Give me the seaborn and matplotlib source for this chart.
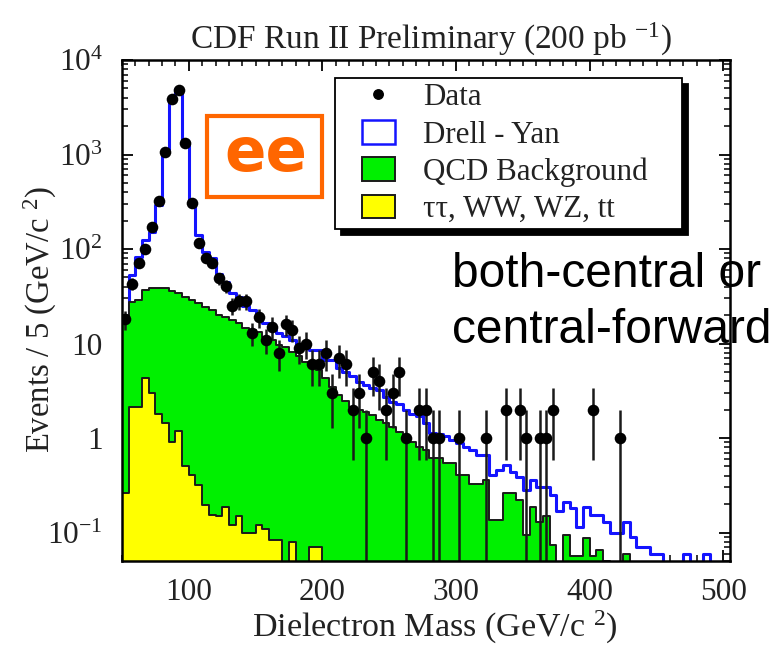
import numpy as np
import pandas as pd
import matplotlib
matplotlib.use("Agg")
import matplotlib.pyplot as plt
import seaborn as sns
from matplotlib.patches import Patch, Rectangle, Circle
from matplotlib.legend_handler import HandlerPatch
from matplotlib.ticker import FixedLocator, LogLocator, NullFormatter, MultipleLocator

# ---------------- data (5 GeV bins, 50 - 505 GeV/c^2) ----------------
bin_edges = list(range(50, 510, 5))
mass_centers = [e + 2.5 for e in bin_edges[:-1]]

data_counts = [18, 43, 72, 100, 172, 324, 1070, 3840, 4820, 1310,
               309, 117, 80, 72, 49, 41, 25, 28, 28, 13,
               19, 11, 15, 8, 16, 14, 9, 10, 6, 6,
               8, 3, 7, 6, 2, 3, 1, 5, 4, 2,
               3, 5, 1, 0, 2, 2, 1, 1, 0, 0,
               1, 0, 0, 0, 1, 0, 0, 2, 0, 2,
               1, 0, 1, 1, 2, 0, 0, 0, 0, 0,
               2, 0, 0, 0, 1, 0, 0, 0, 0, 0,
               0, 0, 0, 0, 0, 0, 0, 0, 0, 0, 0]

# top of the full stack (Drell-Yan + QCD + other)
drell_yan_stack = [18, 53, 83, 124, 152, 292, 1117, 3780, 4900, 1366,
                   316, 141, 94, 80, 55, 45, 34, 31, 25, 22.6,
                   19.5, 16.5, 15, 13, 12, 11, 10, 9.2, 8.5, 8.5,
                   6.7, 6.7, 5.5, 5.0, 4.5, 3.9, 3.6, 3.4, 3.2, 2.7,
                   2.4, 2.3, 2.0, 1.8, 1.7, 1.43, 1.13, 1.10, 1.05, 0.95,
                   0.88, 0.81, 0.75, 0.66, 0.66, 0.41, 0.46, 0.52, 0.44, 0.39,
                   0.28, 0.36, 0.30, 0.30, 0.25, 0.17, 0.21, 0.18, 0.115, 0.187,
                   0.153, 0.153, 0.13, 0.10, 0.10, 0.13, 0.09, 0.071, 0.071, 0.06,
                   0.06, 0, 0, 0, 0.06, 0, 0, 0.06, 0, 0, 0]

# top of QCD + other
qcd_stack = [17.7, 27.7, 29, 37, 39, 39, 39, 36, 34, 31,
             29, 26.6, 24.5, 22.6, 20, 19, 17.7, 16.4, 14.5, 13.9,
             13.3, 11.8, 10.9, 9.6, 9.3, 8.2, 7.4, 6.4, 5.7, 5.2,
             4.3, 3.5, 2.85, 2.45, 2.14, 1.98, 1.9, 1.75, 1.55, 1.43,
             1.32, 1.17, 1.03, 0.91, 0.81, 0.75, 0.61, 0.61, 0.54, 0.54,
             0.41, 0.41, 0.33, 0.33, 0.36, 0.135, 0.135, 0.26, 0.26, 0.22,
             0.094, 0.186, 0.13, 0.15, 0.074, 0, 0.094, 0.056, 0.056, 0.087,
             0.056, 0.065, 0.05, 0, 0, 0.06, 0, 0, 0, 0,
             0, 0, 0, 0, 0, 0, 0, 0, 0, 0, 0]

# tau tau, WW, WZ, ttbar
other_bkg = [0.26, 2.14, 2.14, 4.3, 3.0, 1.8, 1.43, 0.91, 1.2, 0.50,
             0.41, 0.32, 0.195, 0.153, 0.15, 0.187, 0.12, 0.15, 0.10, 0.10,
             0.12, 0.11, 0.083, 0.083, 0, 0.08, 0, 0, 0.071, 0.071,
             0, 0, 0, 0, 0, 0, 0, 0, 0, 0,
             0, 0, 0, 0, 0, 0, 0, 0, 0, 0,
             0, 0, 0, 0, 0, 0, 0, 0, 0, 0,
             0, 0, 0, 0, 0, 0, 0, 0, 0, 0,
             0, 0, 0, 0, 0, 0, 0, 0, 0, 0,
             0, 0, 0, 0, 0, 0, 0, 0, 0, 0, 0]

legend_labels = ["Data", "Drell - Yan", "QCD Background", "\u03c4\u03c4, WW, WZ, tt"]
ytick_values = [0.1, 1, 10, 100, 1000, 10000]
ytick_labels = [r"$10^{-1}$", "1", "10", r"$10^{2}$", r"$10^{3}$", r"$10^{4}$"]
xtick_values = [100, 200, 300, 400, 500]

# ---------------- style ----------------
sns.set_theme(style="ticks")
plt.rcParams['font.family'] = ['Liberation Serif', 'DejaVu Serif']
plt.rcParams['mathtext.fontset'] = 'custom'
plt.rcParams['mathtext.rm'] = 'Liberation Serif'
plt.rcParams['mathtext.it'] = 'Liberation Serif:italic'
plt.rcParams['mathtext.bf'] = 'Liberation Serif:bold'

W, H = 777, 647
fig = plt.figure(figsize=(W / 100, H / 100), dpi=100)
ax = fig.add_axes([122 / W, 1 - 561 / H, (730 - 122) / W, (561 - 60) / H])
ax.set_yscale('log')

df = pd.DataFrame({'mass': mass_centers, 'dy': drell_yan_stack,
                   'qcd': qcd_stack, 'other': other_bkg, 'n': data_counts})

blue = '#1414ff'
green = '#00f000'
yellow = '#ffff00'
dark = '#1a1a1a'

sns.histplot(data=df, x='mass', weights='dy', bins=bin_edges, element='step',
             fill=True, color='white', alpha=1, edgecolor=blue, linewidth=2.2,
             ax=ax, zorder=1)
sns.histplot(data=df, x='mass', weights='qcd', bins=bin_edges, element='step',
             fill=True, color=green, alpha=1, edgecolor=dark, linewidth=1.4,
             ax=ax, zorder=2)
sns.histplot(data=df, x='mass', weights='other', bins=bin_edges, element='step',
             fill=True, color=yellow, alpha=1, edgecolor=dark, linewidth=1.4,
             ax=ax, zorder=3)

# data points with Poisson errors
pts = df[df['n'] > 0]
err = np.sqrt(pts['n'].values)
lo = np.clip(pts['n'].values - err, 1e-3, None)
hi = pts['n'].values + err
ax.vlines(pts['mass'].values, lo, hi, color=dark, linewidth=1.8, zorder=5)
sns.scatterplot(data=pts, x='mass', y='n', color='black', s=70, edgecolor='black',
                linewidth=0, ax=ax, zorder=6, legend=False)

ax.set_xlim(50, 505)
ax.set_ylim(0.05, 1e4)
ax.set_xlabel('')
ax.set_ylabel('')

for s in ax.spines.values():
    s.set_linewidth(1.8)
    s.set_color('black')
    s.set_zorder(10)

ax.xaxis.set_major_locator(FixedLocator(xtick_values))
ax.xaxis.set_minor_locator(MultipleLocator(10))
ax.yaxis.set_major_locator(FixedLocator(ytick_values))
ax.set_yticklabels(ytick_labels)
ax.yaxis.set_minor_locator(LogLocator(base=10, subs=np.arange(2, 10)))
ax.yaxis.set_minor_formatter(NullFormatter())
ax.tick_params(which='both', direction='in', top=True, right=True, color='black')
ax.tick_params(which='major', length=8, width=1.3, labelsize=22.5,
               labelcolor='#222222')
ax.tick_params(axis='x', which='major', pad=12)
ax.tick_params(axis='y', which='major', pad=14)
ax.tick_params(which='minor', length=4, width=1.1)

# legend with boxes indented like the original
LEG_FS = 22.3


def box_patch(legend, orig_handle, xdescent, ydescent, width, height, fontsize):
    return Rectangle((-xdescent + 16.1, -ydescent), 23.8, height)


def dot_patch(legend, orig_handle, xdescent, ydescent, width, height, fontsize):
    return Circle((-xdescent + 28.0, -ydescent + height / 2), 3.4)


handles = [Patch(facecolor='black', edgecolor='black'),
           Patch(facecolor='white', edgecolor=blue, linewidth=1.8),
           Patch(facecolor=green, edgecolor=dark, linewidth=1.4),
           Patch(facecolor=yellow, edgecolor=dark, linewidth=1.4)]
hmap = {handles[0]: HandlerPatch(patch_func=dot_patch)}
for h in handles[1:]:
    hmap[h] = HandlerPatch(patch_func=box_patch)

leg_x0 = (335 - 122) / 608
leg_y0 = 1 - (230 - 60) / 501
leg_w = (682 - 335) / 608
leg_h = (230 - 78) / 501
leg = ax.legend(handles, legend_labels, handler_map=hmap, loc='upper left',
                bbox_to_anchor=(leg_x0, leg_y0, leg_w, leg_h), mode='expand',
                fontsize=LEG_FS, frameon=True, fancybox=False, framealpha=1,
                edgecolor='black', borderaxespad=0, borderpad=0.15,
                handlelength=1.79, handleheight=0.8, handletextpad=0.9,
                labelspacing=0.25,
                shadow={'ox': 4, 'oy': -4, 'color': 'black', 'alpha': 1})
leg.get_frame().set_linewidth(1.3)
for t in leg.get_texts():
    t.set_color('#222222')
leg.set_zorder(20)

# "ee" box
fig.add_artist(Rectangle((207 / W, 1 - 197 / H), 115 / W, 81 / H,
                         transform=fig.transFigure, fill=False,
                         edgecolor='#ff6600', linewidth=3.0))
fig.text(266 / W, 1 - 171 / H, 'ee', ha='center', va='baseline',
         fontsize=44, fontweight='bold', color='#ff6600', family='DejaVu Sans')

# annotation
fig.text(452 / W, 1 - 287 / H, 'both-central or', ha='left', va='baseline',
         fontsize=34.5, color='black', family='Liberation Sans')
fig.text(452 / W, 1 - 343 / H, 'central-forward', ha='left', va='baseline',
         fontsize=34.5, color='black', family='Liberation Sans')

# titles
fig.text(190 / W, 1 - 49 / H, 'CDF Run II Preliminary (200 pb $^{-1}$)',
         ha='left', va='baseline', fontsize=24, color='#222222')
fig.text(435 / W, 1 - 637 / H, 'Dielectron Mass (GeV/c $^{2}$)',
         ha='center', va='baseline', fontsize=24.5, color='#222222')
fig.text(40 / W, 1 - 320 / H, 'Events / 5 (GeV/c $^{2}$)', rotation=90,
         ha='center', va='center', fontsize=23.5, color='#222222')

fig.savefig('out.png', dpi=100)
